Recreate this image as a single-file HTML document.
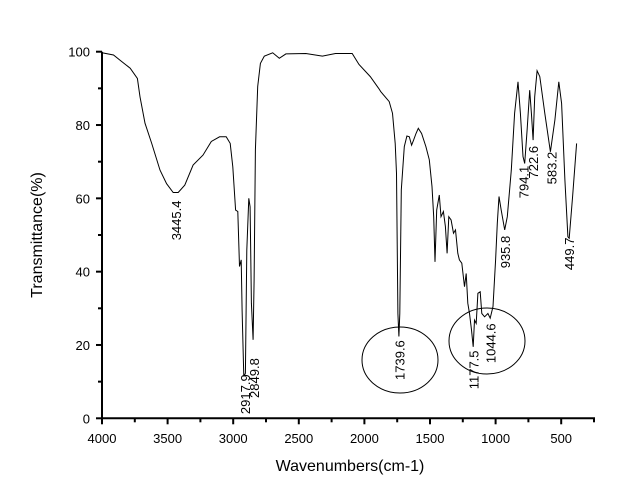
<!DOCTYPE html>
<html><head><meta charset="utf-8"><style>
body{margin:0;background:#fff}
svg{display:block;font-family:"Liberation Sans",Arial,sans-serif}
</style></head><body>
<svg id="c" width="623" height="493">
<g id="axes"></g><g id="plot"></g><g id="ann"></g>
<text x="350" y="471" font-size="16" text-anchor="middle">Wavenumbers(cm-1)</text>
<text transform="translate(42,235) rotate(-90)" font-size="16" text-anchor="middle">Transmittance(%)</text>
</svg>
<script>
const wavenumbers=[4000,3912,3849,3785,3730,3710,3672,3621,3558,3508,3457,3419,3369,3306,3230,3167,3104,3053,3023,3003,2982,2965,2952,2939,2932,2919,2907,2896,2881,2871,2861,2848,2841,2831,2813,2793,2763,2699,2649,2598,2447,2320,2220,2093,2041,1955,1891,1875,1811,1786,1765,1755,1745,1737,1730,1719,1696,1676,1658,1640,1625,1607,1589,1564,1531,1505,1485,1472,1462,1449,1429,1416,1398,1383,1370,1357,1339,1321,1306,1288,1276,1258,1237,1224,1212,1199,1184,1171,1161,1148,1135,1117,1105,1084,1059,1041,1020,1000,987,974,957,931,911,880,855,829,811,791,778,760,740,727,714,702,684,663,625,582,548,518,497,472,449,439,413,383];
const transmittance=[99.7,99.1,97.3,95.5,92.7,87.7,80.5,75,67.7,64,61.6,61.6,63.6,69.1,71.8,75.5,76.8,76.8,75,68.6,56.8,56.4,41.4,43.2,29.5,11.4,12.3,45.9,60,57.7,31.4,21.4,37.7,73.2,90.5,96.8,98.8,99.7,98.2,99.4,99.5,98.8,99.5,99.5,96.5,93.2,90,89.1,86.4,83.2,75,66.8,28.6,22.3,28.6,62.3,74.1,77,76.8,74.5,75.9,77.7,79.1,77.7,74.1,70.5,63.2,55,42.7,56.8,60.9,55,56.4,52.3,45,55,54.1,50.5,51.4,45,43.2,42.3,35.9,39.5,31.4,28.6,24.1,19.5,26.8,25.9,34.1,34.5,28.6,27.7,28.6,27.3,30.5,43.2,53.2,60.5,56.8,51.4,55,67.7,83.2,91.8,83.2,71.4,69.5,78.6,89.5,83.2,75.9,87.7,94.8,93.2,83.2,72.7,81.4,91.8,85.9,65,49.5,49.1,60.5,75];
const xTicks=[4000,3500,3000,2500,2000,1500,1000,500];
const yTicks=[0,20,40,60,80,100];
const peakLabels=["3445.4","2917.9","2849.8","1739.6","1177.5","1044.6","935.8","794.1","722.6","583.2","449.7"];
const peakLabelTopT=[59.4,12,16.4,21.3,18.5,25.9,49.8,68.9,74.3,72.7,49.3];
const ns="http://www.w3.org/2000/svg";
const X=w=>102+(4000-w)*0.1312, Y=t=>418.3-t*3.666;
function mk(tag,at,par){const e=document.createElementNS(ns,tag);for(const k in at)e.setAttribute(k,at[k]);par.appendChild(e);return e;}
const ax=document.getElementById('axes'),pl=document.getElementById('plot'),an=document.getElementById('ann');
let a=mk('path',{d:`M${X(4000)},${Y(100)}V${Y(0)}H595`,fill:'none',stroke:'#000','stroke-width':2},ax);


for(let w=4000;w>=250;w-=250){const maj=w%500===0;mk('line',{x1:X(w),x2:X(w),y1:Y(0),y2:Y(0)+(maj?6:4),stroke:'#000','stroke-width':2},ax);}
xTicks.forEach(w=>{const t=mk('text',{x:X(w),y:443,'font-size':13,'text-anchor':'middle'},ax);t.textContent=w;

});
for(let v=0;v<=100;v+=10){const maj=v%20===0;mk('line',{x1:X(4000),x2:X(4000)-(maj?6:4),y1:Y(v),y2:Y(v),stroke:'#000','stroke-width':2},ax);}
yTicks.forEach(v=>{const t=mk('text',{x:90,y:Y(v)+5,'font-size':13,'text-anchor':'end'},ax);t.textContent=v;

});
let d=wavenumbers.map((w,i)=>(i?'L':'M')+X(w).toFixed(1)+','+Y(transmittance[i]).toFixed(1)).join('');
const line=mk('path',{d,fill:'none',stroke:'#000','stroke-width':1},pl);


peakLabels.forEach((s,i)=>{const w=parseFloat(s);const t=mk('text',{transform:`translate(${X(w)+6},${Y(peakLabelTopT[i])}) rotate(-90)`,'font-size':13,'text-anchor':'end'},an);t.textContent=s;

});
let e1=mk('ellipse',{cx:400,cy:360,rx:38,ry:33,fill:'none',stroke:'#000','stroke-width':1},an);


let e2=mk('ellipse',{cx:487,cy:341,rx:38,ry:33,fill:'none',stroke:'#000','stroke-width':1},an);


</script>
</body></html>
